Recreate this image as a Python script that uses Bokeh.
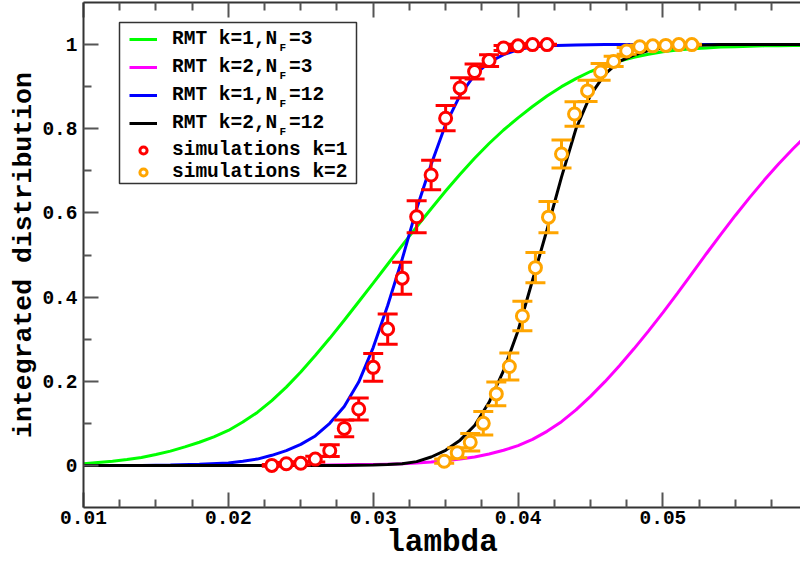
import numpy as np
from bokeh.plotting import figure
from bokeh.models import (Range1d, FixedTicker, LinearAxis, Legend, LegendItem,
                          Label, BoxAnnotation, CustomJSTickFormatter)
from bokeh.embed import file_html
from bokeh.resources import INLINE

# ---------------- data ----------------
green_x = [0.010, 0.011, 0.012, 0.013, 0.014, 0.015, 0.016, 0.017, 0.018, 0.019, 0.020,
           0.021, 0.022, 0.023, 0.024, 0.025, 0.026, 0.027, 0.028, 0.029, 0.030,
           0.031, 0.032, 0.033, 0.034, 0.035, 0.036, 0.037, 0.038, 0.039, 0.040,
           0.041, 0.042, 0.043, 0.044, 0.045, 0.046, 0.047, 0.048, 0.049, 0.050,
           0.051, 0.052, 0.053, 0.054, 0.055, 0.056, 0.057, 0.058, 0.059, 0.060]
green_y = [0.004, 0.007, 0.010, 0.014, 0.019, 0.026, 0.034, 0.044, 0.055, 0.068, 0.083,
           0.103, 0.126, 0.154, 0.186, 0.222, 0.261, 0.302, 0.345, 0.389, 0.433,
           0.478, 0.523, 0.567, 0.610, 0.652, 0.692, 0.730, 0.765, 0.797, 0.826,
           0.853, 0.878, 0.900, 0.919, 0.936, 0.950, 0.961, 0.970, 0.977, 0.983,
           0.987, 0.990, 0.992, 0.994, 0.995, 0.996, 0.997, 0.997, 0.998, 0.998]

magenta_x = [0.010, 0.025, 0.027, 0.029, 0.030, 0.031, 0.032, 0.033, 0.034, 0.035, 0.036,
             0.037, 0.038, 0.039, 0.040, 0.041, 0.042, 0.043, 0.044, 0.045, 0.046,
             0.047, 0.048, 0.049, 0.050, 0.051, 0.052, 0.053, 0.054, 0.055, 0.056,
             0.057, 0.058, 0.059, 0.060]
magenta_y = [0.000, 0.000, 0.001, 0.002, 0.002, 0.003, 0.004, 0.006, 0.008, 0.011, 0.015,
             0.020, 0.027, 0.036, 0.047, 0.062, 0.081, 0.104, 0.132, 0.164, 0.199,
             0.237, 0.277, 0.319, 0.363, 0.409, 0.456, 0.503, 0.549, 0.594, 0.637,
             0.678, 0.717, 0.753, 0.787]

blue_x = [0.010, 0.014, 0.016, 0.018, 0.020, 0.021, 0.022, 0.023, 0.024, 0.025, 0.026,
          0.027, 0.028, 0.029, 0.030, 0.031, 0.032, 0.033, 0.034, 0.035, 0.036, 0.037,
          0.038, 0.039, 0.040, 0.041, 0.042, 0.044, 0.046, 0.060]
blue_y = [0.000, 0.000, 0.001, 0.003, 0.006, 0.010, 0.015, 0.024, 0.035, 0.050, 0.070,
          0.100, 0.140, 0.198, 0.280, 0.380, 0.490, 0.610, 0.715, 0.810, 0.880, 0.928,
          0.958, 0.976, 0.988, 0.994, 0.997, 0.999, 1.000, 1.000]

black_x = [0.010, 0.028, 0.030, 0.031, 0.032, 0.033, 0.034, 0.035, 0.036, 0.037, 0.038,
           0.039, 0.040, 0.041, 0.042, 0.043, 0.044, 0.045, 0.046, 0.047, 0.048, 0.049,
           0.050, 0.052, 0.054, 0.060]
black_y = [0.000, 0.000, 0.001, 0.002, 0.004, 0.009, 0.020, 0.036, 0.060, 0.095, 0.150,
           0.225, 0.320, 0.440, 0.560, 0.685, 0.800, 0.880, 0.930, 0.960, 0.975, 0.986,
           0.992, 0.998, 1.000, 1.000]

sim1_x = [0.023, 0.024, 0.025, 0.026, 0.027, 0.028, 0.029, 0.030, 0.031, 0.032,
          0.033, 0.034, 0.035, 0.036, 0.037, 0.038, 0.039, 0.040, 0.041, 0.042]
sim1_y = [0.000, 0.004, 0.005, 0.015, 0.035, 0.088, 0.134, 0.233, 0.324, 0.445,
          0.591, 0.690, 0.825, 0.897, 0.936, 0.962, 0.992, 0.997, 1.000, 1.000]
sim1_err = [0.002, 0.003, 0.004, 0.007, 0.014, 0.020, 0.026, 0.033, 0.036, 0.038,
            0.038, 0.035, 0.030, 0.024, 0.018, 0.014, 0.006, 0.004, 0.002, 0.001]

sim2_x = [0.0349, 0.0358, 0.0367, 0.0376, 0.0385, 0.0394, 0.0403, 0.0412, 0.0421, 0.0430,
          0.0439, 0.0448, 0.0457, 0.0466, 0.0475, 0.0484, 0.0493, 0.0502, 0.0511, 0.0520]
sim2_y = [0.010, 0.030, 0.055, 0.100, 0.170, 0.235, 0.355, 0.470, 0.590, 0.740,
          0.835, 0.890, 0.935, 0.960, 0.985, 0.995, 0.997, 0.998, 1.000, 1.000]
sim2_err = [0.005, 0.012, 0.021, 0.028, 0.028, 0.032, 0.035, 0.036, 0.037, 0.033,
            0.029, 0.025, 0.020, 0.012, 0.008, 0.004, 0.003, 0.002, 0.001, 0.001]

x_ticks = [0.01, 0.02, 0.03, 0.04, 0.05]
x_tick_labels = ["0.01", "0.02", "0.03", "0.04", "0.05"]
x_minor = [0.0125, 0.015, 0.0175, 0.0225, 0.025, 0.0275, 0.0325, 0.035, 0.0375,
           0.0425, 0.045, 0.0475, 0.0525, 0.055, 0.0575]
y_ticks = [0.0, 0.2, 0.4, 0.6, 0.8, 1.0]
y_tick_labels = ["0", "0.2", "0.4", "0.6", "0.8", "1"]
y_minor = [0.1, 0.3, 0.5, 0.7, 0.9]

series_labels = ["RMT k=1,N =3", "RMT k=2,N =3", "RMT k=1,N =12", "RMT k=2,N =12",
                 "simulations k=1", "simulations k=2"]

# ---------------- figure ----------------
FONT = "Liberation Mono"
AX = "#333333"
TK = "#555555"

p = figure(width=800, height=565, output_backend="svg", toolbar_location=None,
           x_range=Range1d(0.01, 0.0595), y_range=Range1d(-0.1, 1.1),
           min_border_left=83, min_border_right=0, min_border_top=2, min_border_bottom=58)
p.xgrid.visible = False
p.ygrid.visible = False
p.outline_line_color = None
p.background_fill_color = "white"
p.border_fill_color = "white"

xt = FixedTicker(ticks=x_ticks, minor_ticks=x_minor)
yt = FixedTicker(ticks=y_ticks, minor_ticks=y_minor)


def style_axis(ax):
    ax.axis_line_color = AX
    ax.axis_line_width = 2
    ax.major_tick_line_color = TK
    ax.minor_tick_line_color = TK
    ax.major_tick_line_width = 2
    ax.minor_tick_line_width = 2
    ax.major_tick_in = 15
    ax.major_tick_out = 0
    ax.minor_tick_in = 8
    ax.minor_tick_out = 0
    ax.major_label_text_font = FONT
    ax.major_label_text_font_style = "bold"
    ax.major_label_text_font_size = "19.5px"
    ax.major_label_text_color = "black"


xa = p.xaxis[0]
xa.ticker = xt
xa.major_label_overrides = dict(zip(x_ticks, x_tick_labels))
style_axis(xa)
xa.major_label_standoff = 3
xa.axis_label = "lambda"
xa.axis_label_text_font = FONT
xa.axis_label_text_font_style = "bold"
xa.axis_label_text_font_size = "31px"
xa.axis_label_text_color = "black"
xa.axis_label_standoff = -2

ya = p.yaxis[0]
ya.ticker = yt
ya.major_label_overrides = dict(zip(y_ticks, y_tick_labels))
style_axis(ya)
ya.major_label_standoff = 6
ya.axis_label = "integrated distribution"
ya.axis_label_text_font = FONT
ya.axis_label_text_font_style = "bold"
ya.axis_label_text_font_size = "26.5px"
ya.axis_label_text_color = "black"
ya.axis_label_standoff = 0

top = LinearAxis(ticker=xt, formatter=CustomJSTickFormatter(code="return ''"))
style_axis(top)
top.major_label_text_font_size = "1px"
top.major_label_standoff = 0
p.add_layout(top, "above")

# ---------------- curves ----------------
LW = 3
r_g = p.line(green_x, green_y, line_color="#00ff00", line_width=LW)
r_m = p.line(magenta_x, magenta_y, line_color="#ff00ff", line_width=LW)
r_b = p.line(blue_x, blue_y, line_color="#0000ff", line_width=LW)
r_k = p.line(black_x, black_y, line_color="black", line_width=LW)

# ---------------- simulations with error bars ----------------
def sim(xs, ys, es, color):
    ys = np.array(ys)
    es = np.array(es)
    lo = ys - es
    hi = ys + es
    p.segment(x0=xs, y0=lo, x1=xs, y1=hi, line_color=color, line_width=3)
    p.scatter(xs, lo, marker="dash", size=20, line_color=color, line_width=3)
    p.scatter(xs, hi, marker="dash", size=20, line_color=color, line_width=3)
    return p.scatter(xs, ys, marker="circle", size=12, line_color=color,
                     line_width=3, fill_color="white")


r_s1 = sim(sim1_x, sim1_y, sim1_err, "#ff0000")
r_s2 = sim(sim2_x, sim2_y, sim2_err, "#ffa500")

# ---------------- legend ----------------
box = BoxAnnotation(left=36, right=273, top=485, bottom=324,
                    left_units="screen", right_units="screen",
                    top_units="screen", bottom_units="screen",
                    fill_color="white", fill_alpha=1.0,
                    line_color=AX, line_width=1.5, line_alpha=1.0)
box.level = "guide"
p.add_layout(box)


def make_legend(items, loc, spacing):
    leg = Legend(items=items, location=loc, orientation="vertical",
                 padding=0, margin=0, spacing=spacing,
                 glyph_width=28, glyph_height=18, label_height=18,
                 label_standoff=15,
                 label_text_font=FONT, label_text_font_style="bold",
                 label_text_font_size="19.5px", label_text_color="black",
                 border_line_color=None, background_fill_alpha=0.0)
    p.add_layout(leg)
    return leg


make_legend([LegendItem(label=series_labels[0], renderers=[r_g]),
             LegendItem(label=series_labels[1], renderers=[r_m]),
             LegendItem(label=series_labels[2], renderers=[r_b]),
             LegendItem(label=series_labels[3], renderers=[r_k])], (46, 373), 6)
make_legend([LegendItem(label=series_labels[4], renderers=[r_s1]),
             LegendItem(label=series_labels[5], renderers=[r_s2])], (46, 324), 0)

for fy in [459.8, 431.7, 403.6, 375.5]:
    p.add_layout(Label(x=196, y=fy, x_units="screen", y_units="screen", text="F",
                       text_font=FONT, text_font_style="bold", text_font_size="11px",
                       text_color="black", text_baseline="alphabetic"))

open("out.html", "w").write(file_html(p, INLINE))
